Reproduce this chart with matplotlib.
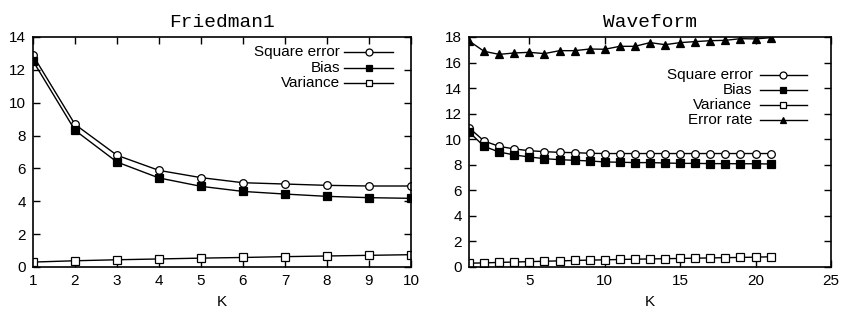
import matplotlib
matplotlib.use("Agg")
import matplotlib.pyplot as plt

# Friedman1 data
k_fried = [1, 2, 3, 4, 5, 6, 7, 8, 9, 10]
fried_sqerr = [12.88, 8.68, 6.80, 5.88, 5.44, 5.13, 5.05, 4.97, 4.93, 4.93]
fried_bias = [12.54, 8.32, 6.39, 5.42, 4.91, 4.60, 4.44, 4.30, 4.22, 4.18]
fried_var = [0.30, 0.38, 0.44, 0.49, 0.54, 0.58, 0.63, 0.67, 0.71, 0.75]

# Waveform data
k_wave = list(range(1, 22))
wave_sqerr = [10.90, 9.86, 9.44, 9.24, 9.10, 9.03, 8.97, 8.95, 8.90, 8.88, 8.88,
              8.88, 8.88, 8.88, 8.88, 8.88, 8.88, 8.88, 8.88, 8.88, 8.88]
wave_bias = [10.57, 9.44, 9.00, 8.77, 8.61, 8.48, 8.40, 8.35, 8.30, 8.22, 8.20,
             8.17, 8.17, 8.14, 8.11, 8.11, 8.09, 8.09, 8.08, 8.08, 8.06]
wave_var = [0.30, 0.32, 0.36, 0.39, 0.42, 0.45, 0.48, 0.51, 0.54, 0.56, 0.59,
            0.61, 0.63, 0.65, 0.67, 0.69, 0.71, 0.73, 0.75, 0.77, 0.80]
wave_err = [17.69, 16.88, 16.64, 16.75, 16.80, 16.70, 16.93, 16.93, 17.06, 17.04, 17.27,
            17.27, 17.56, 17.40, 17.56, 17.64, 17.71, 17.74, 17.87, 17.85, 17.95]

plt.rcParams['font.family'] = ['Liberation Sans', 'DejaVu Sans']
plt.rcParams['font.size'] = 11

fig = plt.figure(figsize=(8.45, 3.11), dpi=100)
ax1 = fig.add_axes([33 / 845, 44 / 311, 378 / 845, 230 / 311])
ax2 = fig.add_axes([469 / 845, 44 / 311, 362 / 845, 230 / 311])

line_kw = dict(color='black', lw=1.0, markersize=5.5, markeredgewidth=0.9)


def style(ax, title):
    ax.set_title(title, family='Liberation Mono', fontsize=14, pad=7)
    ax.set_xlabel('K', labelpad=5)
    ax.tick_params(direction='in', length=5, width=1.0, top=True, right=True, pad=5)
    for s in ax.spines.values():
        s.set_linewidth(1.2)


def key(ax, lines, x_text, x0, x1, ys):
    # gnuplot-style key: right-aligned label, then sample line with a marker
    for ln, y in zip(lines, ys):
        ax.text(x_text, y, ln.get_label(), transform=ax.transAxes,
                ha='right', va='center', fontsize=11)
        ax.plot([x0, x1], [y, y], transform=ax.transAxes, color='black', lw=1.0,
                clip_on=False)
        ax.plot([(x0 + x1) / 2], [y], transform=ax.transAxes, ls='none',
                marker=ln.get_marker(), mfc=ln.get_markerfacecolor(), mec='black',
                markersize=5, markeredgewidth=0.9, clip_on=False)


# Friedman1
l1 = ax1.plot(k_fried, fried_sqerr, marker='o', mfc='white', label='Square error', **line_kw)
l2 = ax1.plot(k_fried, fried_bias, marker='s', mfc='black', label='Bias', **line_kw)
l3 = ax1.plot(k_fried, fried_var, marker='s', mfc='white', label='Variance', **line_kw)
ax1.set_xlim(1, 10)
ax1.set_ylim(0, 14)
ax1.set_xticks(range(1, 11))
ax1.set_yticks(range(0, 15, 2))
style(ax1, 'Friedman1')
key(ax1, l1 + l2 + l3, 0.813, 0.823, 0.953, [0.934, 0.864, 0.802])

# Waveform
w1 = ax2.plot(k_wave, wave_sqerr, marker='o', mfc='white', label='Square error', **line_kw)
w2 = ax2.plot(k_wave, wave_bias, marker='s', mfc='black', label='Bias', **line_kw)
w3 = ax2.plot(k_wave, wave_var, marker='s', mfc='white', label='Variance', **line_kw)
w4 = ax2.plot(k_wave, wave_err, marker='^', mfc='black', label='Error rate', **line_kw)
ax2.set_xlim(1, 25)
ax2.set_ylim(0, 18)
ax2.set_xticks([5, 10, 15, 20, 25])
ax2.set_yticks(range(0, 19, 2))
style(ax2, 'Waveform')
key(ax2, w1 + w2 + w3 + w4, 0.783, 0.804, 0.933, [0.835, 0.771, 0.704, 0.640])

fig.savefig('out.png', dpi=100)
